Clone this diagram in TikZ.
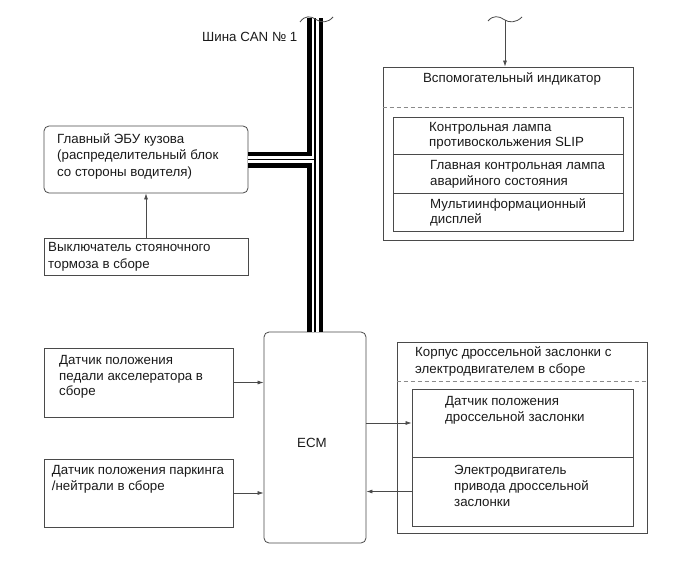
\documentclass[tikz,border=0pt]{standalone}
\usepackage{fontspec}
\setmainfont{Liberation Sans}
\usetikzlibrary{arrows.meta}
\definecolor{ln}{HTML}{4A4A4A}
\definecolor{dl}{HTML}{8A8A8A}
\definecolor{tx}{HTML}{1A1A1A}
\begin{document}
\begin{tikzpicture}[x=1pt,y=-1pt,
 box/.style={draw=ln, line width=0.8pt, inner sep=0pt},
 rbox/.style={box, rounded corners=5pt},
 lbl/.style={font=\fontsize{13.3}{15.7}\selectfont, align=left, inner sep=0pt, anchor=base west, text=tx},
 arr/.style={draw=ln, line width=0.7pt, -{Latex[length=6pt,width=4pt]}},
 brk/.style={draw=ln, line width=0.8pt},
 sep/.style={draw=dl, line width=0.8pt, dash pattern=on 4pt off 3pt},
]
\useasboundingbox (0,0) rectangle (690,562);

% boxes
\node[rbox, minimum width=204pt, minimum height=67pt] (ecu) at (146,159.5) {};
\node[box, minimum width=204pt, minimum height=37pt] (pb) at (146,256.5) {};
\node[box, minimum width=189pt, minimum height=69pt] (acc) at (138.5,382.5) {};
\node[box, minimum width=189pt, minimum height=68pt] (pn) at (138.5,493) {};
\node[rbox, minimum width=102pt, minimum height=211pt] (ecm) at (315,437.5) {};
\node[box, minimum width=250pt, minimum height=191pt] (thr) at (522,437.5) {};
\node[box, minimum width=221pt, minimum height=68pt] (tps) at (522.5,423) {};
\node[box, minimum width=221pt, minimum height=69pt] (mot) at (522.5,491.5) {};
\node[box, minimum width=250pt, minimum height=173pt] (aux) at (508,153.5) {};
\node[box, minimum width=230pt, minimum height=37pt] (l1) at (508,135.5) {};
\node[box, minimum width=230pt, minimum height=39pt] (l2) at (508,173.5) {};
\node[box, minimum width=230pt, minimum height=38pt] (l3) at (508,212) {};

% dashed separators
\draw[sep] (aux.west |- 0,107) -- (aux.east |- 0,107);
\draw[sep] (thr.west |- 0,381) -- (thr.east |- 0,381);

% texts (anchor = baseline of the last line)
\node[lbl] (busl) at (202,41.7) {Шина CAN № 1};
\node[lbl, font=\fontsize{13.3}{16.5}\selectfont] (tecu) at (57,176.3) {Главный ЭБУ кузова\\(распределительный блок\\со стороны водителя)};
\node[lbl, font=\fontsize{13.3}{16.6}\selectfont] (tpb) at (48,268.3) {Выключатель стояночного\\тормоза в сборе};
\node[lbl, font=\fontsize{13.3}{15.5}\selectfont] (tacc) at (59,395.5) {Датчик положения\\педали акселератора в\\сборе};
\node[lbl] (tpn) at (51.7,490) {Датчик положения паркинга\\/нейтрали в сборе};
\node[lbl, anchor=base] (tecm) at (312,447.7) {ECM};
\node[lbl, font=\fontsize{13.3}{16.6}\selectfont] (tthr) at (415,373.3) {Корпус дроссельной заслонки с\\электродвигателем в сборе};
\node[lbl, font=\fontsize{13.3}{16.6}\selectfont] (ttps) at (445,421.6) {Датчик положения\\дроссельной заслонки};
\node[lbl, font=\fontsize{13.3}{16}\selectfont] (tmot) at (454,506) {Электродвигатель\\привода дроссельной\\заслонки};
\node[lbl, anchor=base] (taux) at (512,82.3) {Вспомогательный индикатор};
\node[lbl] (tl1) at (429,146.7) {Контрольная лампа\\противоскольжения SLIP};
\node[lbl] (tl2) at (430,185) {Главная контрольная лампа\\аварийного состояния};
\node[lbl, font=\fontsize{13.3}{15}\selectfont] (tl3) at (430,223.3) {Мультиинформационный\\дисплей};

% arrows
\draw[arr] (pb) -- (ecu);
\draw[arr] (acc.east) -- (acc.east -| ecm.west);
\draw[arr] (pn.east) -- (pn.east -| ecm.west);
\draw[arr] (tps.west -| ecm.east) -- (tps.west);
\draw[arr] (mot.west) -- (mot.west -| ecm.east);

% CAN bus
\coordinate (bustop) at (315,18);
\coordinate (busj) at (315,159.5);
\foreach \w/\c in {16/black, 7/white, 1.2/black} {
  \draw[line width=\w pt, \c] (bustop) -- (ecm.north);
  \draw[line width=\w pt, \c] (ecu.east) -- (busj);
}
\draw[brk] (300,22) .. controls (305,15) and (311,16) .. (316,19.5) .. controls (321,23) and (328,23) .. (333,17);

% top-right break and arrow
\coordinate (brk2) at (505,20);
\draw[brk] (488,21) .. controls (493,15) and (499,16) .. (504,19.5) .. controls (509,23) and (516,23) .. (522,17);
\draw[arr] (brk2) -- (brk2 |- aux.north);
\end{tikzpicture}
\end{document}
